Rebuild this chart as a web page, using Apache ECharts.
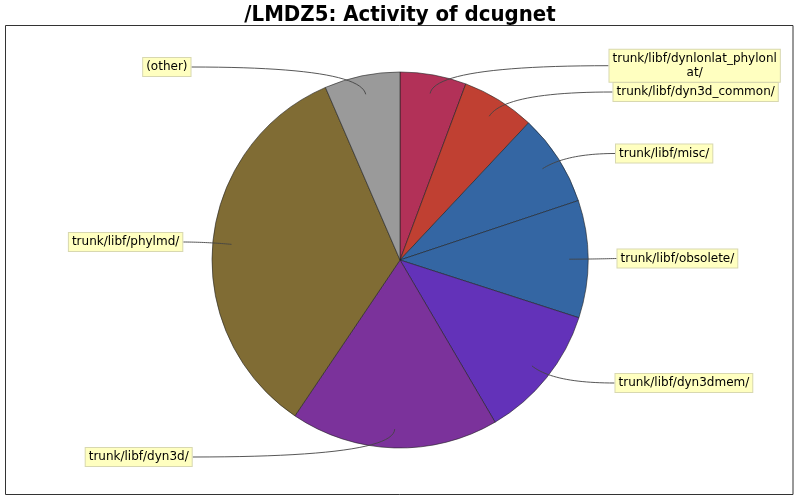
<!DOCTYPE html>
<html>
<head>
<meta charset="utf-8">
<script src="https://cdn.jsdelivr.net/npm/echarts@6/dist/echarts.min.js"></script>
<style>html,body{margin:0;padding:0;background:#fff}#c{width:800px;height:500px}</style>
</head>
<body>
<div id="c"></div>
<script>
// ---- data ----
var categories = [
  'trunk/libf/dynlonlat_phylonlat/',
  'trunk/libf/dyn3d_common/',
  'trunk/libf/misc/',
  'trunk/libf/obsolete/',
  'trunk/libf/dyn3dmem/',
  'trunk/libf/dyn3d/',
  'trunk/libf/phylmd/',
  '(other)'
];
var values = [57, 63, 79, 101, 116, 179, 341, 65];
var colors = ['#b23158', '#c04032', '#3466a3', '#3466a3', '#6332b9', '#7b329b', '#806c34', '#9a9a9a'];
var titleText = '/LMDZ5: Activity of dcugnet';

// ---- layout (label anchor points: side, x, y) ----
var labelAnchors = [
  ['r', 608.5, 65.7],
  ['r', 612.5, 92],
  ['r', 615, 153.5],
  ['r', 616.5, 258.5],
  ['r', 614.5, 383],
  ['l', 192.7, 457],
  ['l', 183.3, 242],
  ['l', 191.5, 67]
];
var CX = 0.5, CY = 0.52, R = 188;

var chart = echarts.init(document.getElementById('c'), null, {renderer: 'canvas'});
var total = values.reduce(function (a, b) { return a + b; }, 0);
var cums = [];
(function () { var s = 0; for (var i = 0; i < values.length; i++) { cums.push(s); s += values[i]; } })();

function wrapName(n) {
  return n.length > 29 ? n.slice(0, 28) + '\n' + n.slice(28) : n;
}

var pieData = categories.map(function (c, i) {
  return {name: c, value: values[i], itemStyle: {color: colors[i]}};
});

var option = {
  animation: false,
  title: {
    text: titleText,
    left: 'center',
    top: -1,
    textStyle: {fontFamily: 'DejaVu Sans Condensed', fontWeight: 'bold', fontSize: 22, color: '#000'}
  },
  graphic: [{
    type: 'rect',
    shape: {x: 5.5, y: 25.5, width: 787.5, height: 469},
    style: {fill: 'none', stroke: '#333', lineWidth: 1},
    silent: true
  }],
  series: [{
    type: 'pie',
    z: 2,
    center: [CX * 100 + '%', CY * 100 + '%'],
    radius: R,
    startAngle: 90,
    clockwise: true,
    silent: true,
    data: pieData,
    itemStyle: {borderColor: '#222', borderWidth: 0.6},
    label: {show: false},
    labelLine: {show: false},
    emphasis: {disabled: true}
  }, {
    type: 'pie',
    z: 3,
    center: [CX * 100 + '%', CY * 100 + '%'],
    radius: R,
    startAngle: 90,
    clockwise: true,
    silent: true,
    avoidLabelOverlap: false,
    data: categories.map(function (c, i) { return {name: c, value: values[i]}; }),
    itemStyle: {color: 'rgba(0,0,0,0)', borderWidth: 0},
    label: {
      show: true,
      position: 'outside',
      formatter: function (p) { return wrapName(p.name); },
      fontFamily: 'DejaVu Sans',
      fontSize: 12,
      lineHeight: 14,
      color: '#000',
      backgroundColor: '#ffffc0',
      borderColor: '#d8d8b0',
      borderWidth: 1,
      padding: [2, 3, 2, 3],
      align: 'center'
    },
    labelLine: {show: true, smooth: false, lineStyle: {color: '#444', width: 0.9, opacity: 1}},
    emphasis: {disabled: true},
    labelLayout: function (p) {
      var i = p.dataIndex;
      var a = labelAnchors[i];
      var w = p.labelRect.width;
      var W = chart.getWidth(), H = chart.getHeight();
      var cx = W * CX, cy = H * CY;
      var th = (cums[i] + values[i] / 2) / total * 2 * Math.PI;
      var dx = Math.sin(th), dy = -Math.cos(th);
      var p0 = [cx + 0.9 * R * dx, cy + 0.9 * R * dy];
      var end = [a[1], a[2]];
      var maxT = Math.abs(end[0] - p0[0]) * 0.5;
      var t = Math.abs(dy) > 1e-6 ? (end[1] - p0[1]) / dy : maxT;
      if (!(t > 0)) t = 0;
      if (t > maxT) t = maxT;
      var p1 = [p0[0] + dx * t, p0[1] + dy * t];
      var pts = [];
      for (var k = 0; k <= 24; k++) {
        var u = k / 24;
        pts.push([
          (1 - u) * (1 - u) * p0[0] + 2 * u * (1 - u) * p1[0] + u * u * end[0],
          (1 - u) * (1 - u) * p0[1] + 2 * u * (1 - u) * p1[1] + u * u * end[1]
        ]);
      }
      return {
        x: a[0] === 'r' ? a[1] + w / 2 : a[1] - w / 2,
        y: a[2],
        align: 'center',
        verticalAlign: 'middle',
        labelLinePoints: pts
      };
    }
  }]
};
chart.setOption(option);
</script>
</body>
</html>
